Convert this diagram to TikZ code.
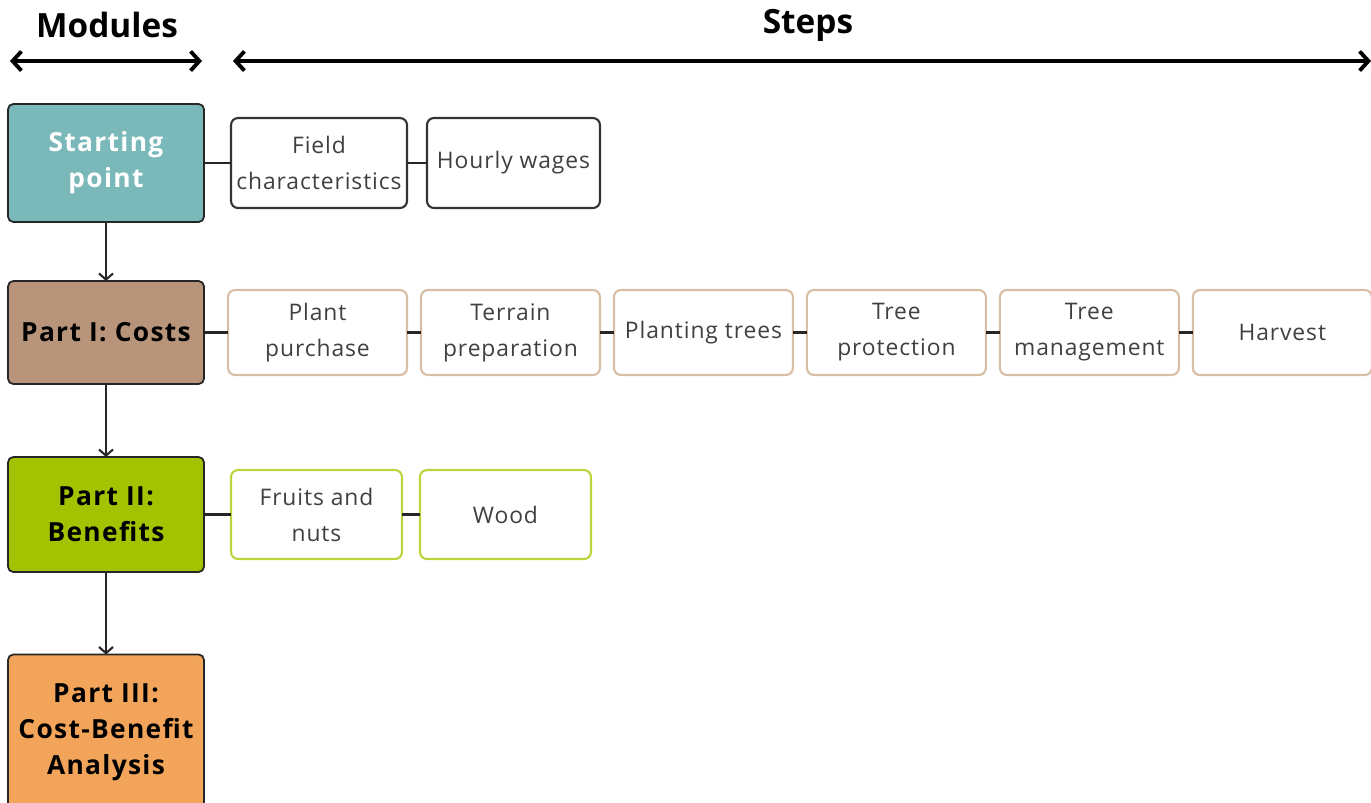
\documentclass[tikz,border=0pt]{standalone}
\usepackage{fontspec}
\setmainfont{Open Sans}
\usetikzlibrary{arrows.meta, positioning}
\definecolor{startfill}{HTML}{7AB8BA}
\definecolor{costfill}{HTML}{B8957A}
\definecolor{benefitfill}{HTML}{A3C200}
\definecolor{cbafill}{HTML}{F2A55A}
\definecolor{costline}{HTML}{D9BEA6}
\definecolor{benefitline}{HTML}{B8D63C}
\definecolor{steptext}{HTML}{404040}

\begin{document}
\begin{tikzpicture}[x=0.02cm, y=-0.02cm,
    module/.style={draw=black!85, line width=1pt, rounded corners=3pt,
        minimum width=3.92cm, align=center, inner sep=0pt, outer sep=0pt,
        font=\fontsize{15}{20.5}\selectfont\bfseries\addfontfeature{LetterSpace=5}},
    stepbox/.style={draw, fill=white, line width=1.2pt, rounded corners=4pt,
        align=center, inner sep=0pt, outer sep=0pt, text=steptext,
        font=\fontsize{13}{20.5}\selectfont\addfontfeature{LetterSpace=4}},
    link/.style={line width=1.5pt, black!85},
    flow/.style={-{Straight Barb[length=3.5pt, width=8pt]}, line width=1.2pt, black!85},
    span/.style={{Straight Barb[length=5pt, width=11pt]}-{Straight Barb[length=5pt, width=11pt]}, line width=2.2pt},
    heading/.style={font=\fontsize{19}{22}\selectfont\bfseries}]
    \useasboundingbox (0,0) rectangle (1371,802);

    % --- Headings ---
    \node[heading] (modhead) at (107,25) {Modules};
    \node[heading] (stephead) at (808,25) {Steps};
    \coordinate (modl) at (10,61);
    \coordinate (modr) at (202,61);
    \coordinate (stepl) at (233,61);
    \coordinate (stepr) at (1371,61);
    \draw[span] (modl) -- (modr);
    \draw[span] (stepl) -- (stepr);

    % --- Modules ---
    \node[module, fill=startfill, text=white, minimum height=2.36cm] (start) at (106,163) {Starting\\point};
    \node[module, fill=costfill, minimum height=2.06cm] (costs) at (106,332.5) {Part I: Costs};
    \node[module, fill=benefitfill, minimum height=2.3cm] (benefits) at (106,514.5) {Part II:\\Benefits};
    \node[module, fill=cbafill, minimum height=3.1cm] (cba) at (106,732) {Part III:\\Cost-Benefit\\Analysis};

    \draw[flow] (start) -- (costs);
    \draw[flow] (costs) -- (benefits);
    \draw[flow] (benefits) -- (cba);

    % --- Starting point steps ---
    \node[stepbox, draw=black!80, minimum width=3.52cm, minimum height=1.8cm] (field) at (319,163) {Field\\characteristics};
    \node[stepbox, draw=black!80, minimum width=3.46cm, minimum height=1.8cm, right=0.4cm of field] (wages) {Hourly wages};
    \draw[link] (start) -- (field);
    \draw[link] (field) -- (wages);

    % --- Cost steps ---
    \begin{scope}[every node/.append style={stepbox, draw=costline, minimum width=3.58cm, minimum height=1.7cm}]
        \node (plant) at (317.5,332.5) {Plant\\purchase};
        \node[right=0.28cm of plant] (terrain) {Terrain\\preparation};
        \node[right=0.28cm of terrain] (planting) {Planting trees};
        \node[right=0.28cm of planting] (protect) {Tree\\protection};
        \node[right=0.28cm of protect] (manage) {Tree\\management};
        \node[right=0.28cm of manage] (harvest) {Harvest};
    \end{scope}
    \draw[link] (costs) -- (plant);
    \draw[link] (plant) -- (terrain);
    \draw[link] (terrain) -- (planting);
    \draw[link] (planting) -- (protect);
    \draw[link] (protect) -- (manage);
    \draw[link] (manage) -- (harvest);

    % --- Benefit steps ---
    \node[stepbox, draw=benefitline, minimum width=3.42cm, minimum height=1.78cm] (fruits) at (316.5,514.5) {Fruits and\\nuts};
    \node[stepbox, draw=benefitline, minimum width=3.42cm, minimum height=1.78cm, right=0.36cm of fruits] (wood) {Wood};
    \draw[link] (benefits) -- (fruits);
    \draw[link] (fruits) -- (wood);
\end{tikzpicture}
\end{document}
